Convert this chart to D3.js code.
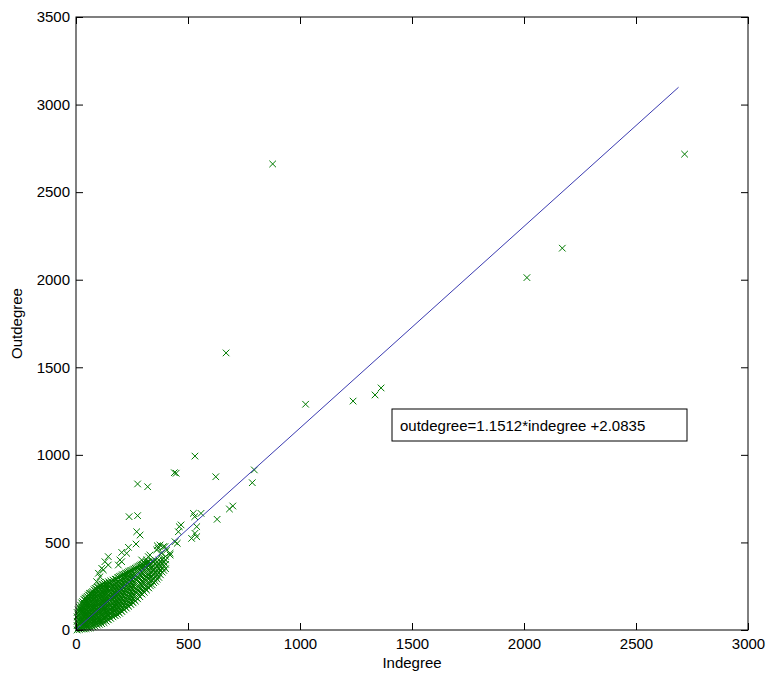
<!DOCTYPE html>
<html>
<head>
<meta charset="utf-8">
<script src="https://cdn.jsdelivr.net/npm/d3@7"></script>
<style>
  body { margin: 0; background: #fff; }
  svg text { font-family: "Liberation Sans", Arial, sans-serif; }
</style>
</head>
<body>
<svg id="chart" width="766" height="673"></svg>
<script>
// axis ticks
var xTicks = [0, 500, 1000, 1500, 2000, 2500, 3000];
var yTicks = [0, 500, 1000, 1500, 2000, 2500, 3000, 3500];

// dense cluster near the origin, read column by column: [indegree, [outdegrees]]
var clusterColumns = [
    [5, [0, 25, 50, 75, 100]],
    [10, [12, 37, 62, 87, 115]],
    [15, [3, 30, 55, 80, 105, 130]],
    [20, [15, 42, 67, 92, 117, 142]],
    [25, [5, 30, 55, 80, 105, 130, 155]],
    [30, [17, 42, 67, 92, 117, 142, 162]],
    [35, [6, 30, 55, 80, 105, 130, 155, 175]],
    [40, [20, 45, 70, 95, 120, 145, 170, 182]],
    [45, [8, 35, 60, 85, 110, 135, 160, 185]],
    [50, [22, 47, 72, 97, 122, 147, 172, 192]],
    [55, [10, 35, 60, 85, 110, 135, 160, 185, 200]],
    [60, [24, 50, 75, 100, 125, 150, 175, 198, 208]],
    [65, [12, 40, 65, 90, 115, 140, 165, 190, 210]],
    [70, [28, 55, 80, 105, 130, 155, 180, 205, 215]],
    [75, [18, 45, 70, 95, 120, 145, 170, 195, 220]],
    [80, [32, 58, 82, 108, 132, 158, 182, 208, 230]],
    [85, [22, 50, 75, 100, 125, 150, 175, 200, 225, 238]],
    [90, [40, 62, 88, 112, 138, 162, 188, 212, 235]],
    [95, [28, 55, 80, 105, 130, 155, 180, 205, 230, 245]],
    [100, [45, 72, 98, 122, 148, 172, 198, 222, 245]],
    [105, [32, 60, 85, 110, 135, 160, 185, 210, 235, 252]],
    [110, [48, 75, 100, 126, 152, 178, 204, 230, 255]],
    [115, [36, 62, 88, 114, 140, 166, 192, 218, 244, 262]],
    [120, [55, 80, 106, 132, 158, 184, 210, 236, 260]],
    [125, [42, 68, 94, 120, 146, 172, 198, 224, 250, 268]],
    [130, [55, 82, 108, 134, 160, 186, 212, 238, 262]],
    [135, [50, 75, 100, 125, 150, 175, 200, 225, 250, 272]],
    [140, [62, 88, 112, 138, 162, 188, 212, 238, 262]],
    [145, [58, 82, 106, 130, 154, 178, 202, 226, 250, 276]],
    [150, [72, 95, 120, 145, 170, 195, 220, 245, 270]],
    [155, [66, 90, 114, 138, 162, 186, 210, 234, 258, 280]],
    [160, [80, 105, 130, 155, 180, 205, 230, 255, 275]],
    [165, [75, 100, 125, 150, 175, 200, 225, 250, 285]],
    [170, [88, 112, 138, 162, 188, 212, 238, 262, 280]],
    [175, [82, 107, 132, 157, 182, 207, 232, 257, 290]],
    [180, [95, 120, 145, 170, 195, 220, 245, 270, 290]],
    [185, [88, 113, 138, 163, 188, 213, 238, 263, 298]],
    [190, [102, 128, 152, 178, 202, 228, 252, 278, 300]],
    [195, [95, 120, 145, 170, 195, 220, 245, 270, 305]],
    [200, [112, 138, 162, 188, 212, 238, 262, 288, 308]],
    [205, [105, 130, 155, 180, 205, 230, 255, 280, 312]],
    [210, [122, 148, 172, 198, 222, 248, 272, 298, 315]],
    [215, [115, 140, 165, 190, 215, 240, 265, 290, 318]],
    [220, [132, 158, 182, 208, 232, 258, 282, 308, 322]],
    [225, [125, 150, 175, 200, 225, 250, 275, 300, 325]],
    [230, [142, 168, 192, 218, 242, 268, 292, 318, 328]],
    [235, [135, 160, 185, 210, 235, 260, 285, 310, 332]],
    [240, [152, 178, 202, 228, 252, 278, 302, 328, 336]],
    [245, [145, 170, 195, 220, 245, 270, 295, 320, 340]],
    [250, [162, 188, 212, 238, 262, 288, 312, 340]],
    [255, [155, 180, 205, 230, 255, 280, 305, 345]],
    [260, [172, 198, 222, 248, 272, 298, 322, 348]],
    [265, [165, 190, 215, 240, 265, 290, 315, 352]],
    [270, [185, 210, 235, 260, 285, 310, 335, 355]],
    [275, [178, 203, 228, 253, 278, 303, 328, 360]],
    [280, [198, 222, 248, 272, 298, 322, 345, 364]],
    [285, [190, 215, 240, 265, 290, 315, 340, 368]],
    [290, [210, 235, 260, 285, 310, 335, 360, 372]],
    [295, [205, 230, 255, 280, 305, 330, 355, 375]],
    [300, [222, 248, 272, 298, 322, 348, 372]],
    [305, [215, 240, 265, 290, 315, 340, 365, 380]],
    [310, [235, 260, 285, 310, 335, 360, 380]],
    [315, [228, 253, 278, 303, 328, 353, 385]],
    [320, [245, 270, 295, 320, 345, 370, 386]],
    [325, [240, 265, 290, 315, 340, 365, 388]],
    [332, [252, 278, 302, 328, 352, 378]],
    [340, [258, 283, 308, 333, 358, 392]],
    [347, [270, 295, 320, 345, 370, 392]],
    [355, [278, 303, 328, 353, 378, 398]],
    [362, [290, 315, 340, 365, 390]],
    [370, [300, 325, 350, 375, 400]],
    [377, [315, 340, 365, 390]],
    [385, [330, 355, 380, 405]],
    [392, [340, 365, 390, 410]],
    [400, [350, 375, 400, 420]]
];

// the sparser points: [indegree, outdegree]
var outliers = [
    [878, 2661], [2717, 2717], [2171, 2180], [2013, 2012], [670, 1582],
    [1025, 1289], [1237, 1307], [1335, 1342], [1362, 1382],
    [531, 993], [439, 898], [447, 895], [275, 834], [320, 818],
    [624, 875], [796, 914], [787, 841], [685, 691], [700, 708], [630, 632],
    [237, 647], [275, 653], [271, 561], [286, 542], [268, 491], [234, 472], [204, 443],
    [524, 666], [530, 647], [558, 666], [539, 590], [531, 552], [516, 523], [539, 533],
    [461, 590], [469, 600], [457, 561], [452, 495],
    [144, 419], [129, 390], [115, 352], [100, 324], [196, 400], [204, 390], [189, 371],
    [226, 438], [293, 400], [308, 381], [323, 419], [330, 371], [360, 457], [382, 438],
    [420, 428], [397, 476], [375, 485], [367, 466], [363, 481], [390, 476], [405, 457],
    [442, 504], [92, 276], [122, 343], [144, 371], [107, 304], [300, 371], [315, 400],
    [330, 428], [420, 438]
];

// fitted line
var slope = 1.1512, intercept = 2.0835;
var fitRange = [0, 2690];
var equation = "outdegree=1.1512*indegree +2.0835";

var svg = d3.select("#chart");

var margin = {top: 17, right: 18, bottom: 43, left: 76};
var width = 766, height = 673;

var x = d3.scaleLinear()
    .domain([0, 3000])
    .range([margin.left, width - margin.right]);

var y = d3.scaleLinear()
    .domain([0, 3500])
    .range([height - margin.bottom, margin.top]);

var points = [];
clusterColumns.forEach(function(c) {
    c[1].forEach(function(v) { points.push([c[0], v]); });
});
points = points.concat(outliers);

// markers
var r = 3.3;
svg.append("g")
    .attr("stroke", "#007a00")
    .attr("stroke-width", 1)
    .selectAll("path")
    .data(points)
    .enter()
    .append("path")
        .attr("d", function(d) {
            var cx = x(d[0]), cy = y(d[1]);
            return "M" + (cx - r) + "," + (cy - r) + "L" + (cx + r) + "," + (cy + r) +
                "M" + (cx - r) + "," + (cy + r) + "L" + (cx + r) + "," + (cy - r);
        });

// regression line
svg.append("line")
    .attr("x1", x(fitRange[0]))
    .attr("y1", y(slope * fitRange[0] + intercept))
    .attr("x2", x(fitRange[1]))
    .attr("y2", y(slope * fitRange[1] + intercept))
    .attr("stroke", "#3a3ab0")
    .attr("stroke-width", 1);

// axes with inward ticks on all four sides
function styleAxis(g) {
    g.select(".domain").remove();
    g.selectAll(".tick line").attr("stroke", "#000");
    g.selectAll(".tick text")
        .attr("fill", "#000")
        .style("font-size", "15px")
        .style("font-family", "'Liberation Sans', Arial, sans-serif");
}

svg.append("g")
    .attr("transform", "translate(0," + y(0) + ")")
    .call(d3.axisBottom(x).tickValues(xTicks).tickFormat(d3.format("d"))
        .tickSizeInner(-7).tickSizeOuter(0).tickPadding(8))
    .call(styleAxis);

svg.append("g")
    .attr("transform", "translate(" + x(0) + ",0)")
    .call(d3.axisLeft(y).tickValues(yTicks).tickFormat(d3.format("d"))
        .tickSizeInner(-7).tickSizeOuter(0).tickPadding(6))
    .call(styleAxis);

svg.append("g")
    .attr("transform", "translate(0," + y(3500) + ")")
    .call(d3.axisTop(x).tickValues(xTicks).tickFormat("")
        .tickSizeInner(-7).tickSizeOuter(0))
    .call(styleAxis);

svg.append("g")
    .attr("transform", "translate(" + x(3000) + ",0)")
    .call(d3.axisRight(y).tickValues(yTicks).tickFormat("")
        .tickSizeInner(-7).tickSizeOuter(0))
    .call(styleAxis);

svg.append("rect")
    .attr("x", x(0))
    .attr("y", y(3500))
    .attr("width", x(3000) - x(0))
    .attr("height", y(0) - y(3500))
    .attr("fill", "none")
    .attr("stroke", "#000")
    .attr("stroke-width", 1);

// axis labels
svg.append("text")
    .attr("x", (x(0) + x(3000)) / 2)
    .attr("y", 668)
    .attr("text-anchor", "middle")
    .style("font-size", "15px")
    .text("Indegree");

svg.append("text")
    .attr("transform", "translate(22," + (y(0) + y(3500)) / 2 + ") rotate(-90)")
    .attr("text-anchor", "middle")
    .style("font-size", "15px")
    .text("Outdegree");

// equation box
var eqX = 392, eqY = 409;
svg.append("text")
    .attr("x", eqX + 8)
    .attr("y", eqY + 22)
    .style("font-size", "15px")
    .text(equation);

svg.append("rect")
    .attr("x", eqX)
    .attr("y", eqY)
    .attr("width", 295)
    .attr("height", 32)
    .attr("fill", "none")
    .attr("stroke", "#000")
    .attr("stroke-width", 1);
</script>
</body>
</html>
